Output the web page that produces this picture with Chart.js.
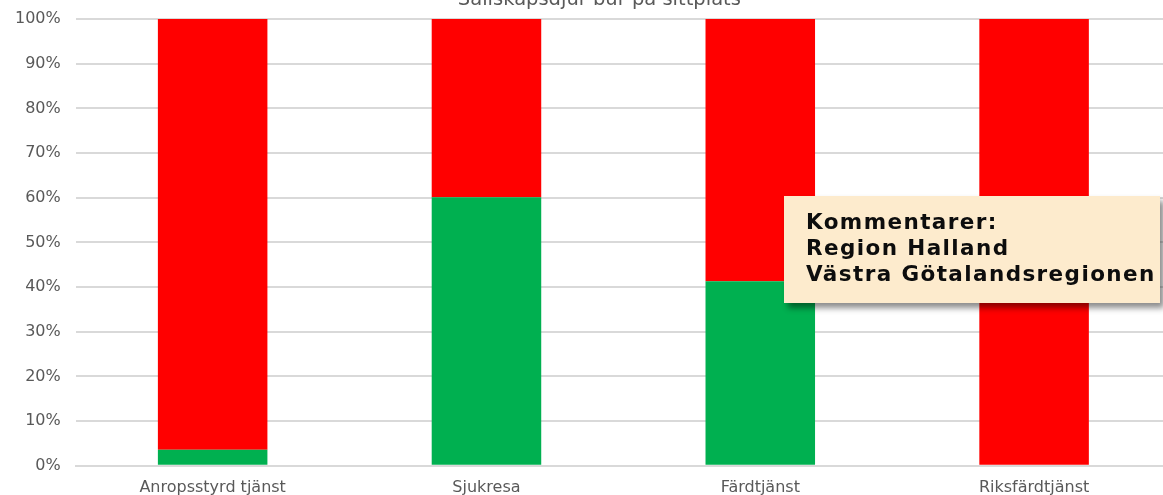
<!DOCTYPE html>
<html>
<head>
<meta charset="utf-8">
<script src="https://cdn.jsdelivr.net/npm/chart.js@4.4.1/dist/chart.umd.min.js"></script>
<style>
  html, body { margin: 0; padding: 0; background: #fff; overflow: hidden; width: 1163px; height: 495px; }
  #wrap { position: absolute; left: 0; top: -20px; width: 1200px; height: 530px; }
  #note {
    position: absolute; left: 784px; top: 196px; width: 376px; height: 107px;
    background: #fdebcd; box-shadow: 4px 5px 6px rgba(0,0,0,0.45);
    font-family: "DejaVu Sans", sans-serif; font-weight: bold; font-size: 21.5px;
    letter-spacing: 1.4px; color: #0d0d0d; line-height: 26px;
    box-sizing: border-box; padding: 13px 0 0 22px; white-space: nowrap;
  }
</style>
</head>
<body>
<div id="wrap"><canvas id="chart" width="1200" height="530"></canvas></div>
<div id="note">Kommentarer:<br>Region Halland<br>Västra Götalandsregionen</div>
<script>
var categories = ["Anropsstyrd tjänst", "Sjukresa", "Färdtjänst", "Riksfärdtjänst"];
var greenValues = [3.6, 60.1, 41.3, 0];
var redValues = [96.4, 39.9, 58.7, 100];
var yTicks = [0, 10, 20, 30, 40, 50, 60, 70, 80, 90, 100];
var chartTitle = "Sällskapsdjur bur på sittplats";

var font = "'DejaVu Sans', sans-serif";

// title sits a bit left of the plot centre, like the original
var topTitle = {
    id: "topTitle",
    afterDraw: function(chart) {
        var c = chart.ctx, a = chart.chartArea;
        c.save();
        c.font = "19.5px " + font;
        c.fillStyle = "#595959";
        c.textAlign = "center";
        c.textBaseline = "alphabetic";
        c.fillText(chartTitle, (a.left + a.right) / 2 - 24, a.top - 14);
        c.restore();
    }
};

var ctx = document.getElementById("chart").getContext("2d");
var myChart = new Chart(ctx, {
    type: "bar",
    data: {
        labels: categories,
        datasets: [
            { label: "Ja", data: greenValues, backgroundColor: "#00b050", barPercentage: 0.4, categoryPercentage: 1 },
            { label: "Nej", data: redValues, backgroundColor: "#ff0000", barPercentage: 0.4, categoryPercentage: 1 }
        ]
    },
    plugins: [topTitle],
    options: {
        responsive: false,
        animation: false,
        layout: { padding: { left: 0, right: 29, top: 39, bottom: 9 } },
        plugins: {
            legend: { display: false },
            tooltip: { enabled: false },
            title: { display: false }
        },
        scales: {
            x: {
                stacked: true,
                grid: { display: false },
                border: { color: "#d9d9d9", width: 2 },
                ticks: { color: "#595959", font: { family: font, size: 16 }, padding: 4, maxRotation: 0 }
            },
            y: {
                stacked: true,
                min: 0,
                max: 100,
                afterBuildTicks: function(axis) {
                    axis.ticks = yTicks.map(function(v) { return { value: v }; });
                },
                grid: { color: "#d9d9d9", lineWidth: 2, drawTicks: false },
                border: { display: false },
                ticks: {
                    color: "#595959",
                    font: { family: font, size: 16 },
                    padding: 15,
                    callback: function(v) { return v + "%"; }
                }
            }
        }
    }
});
</script>
</body>
</html>
